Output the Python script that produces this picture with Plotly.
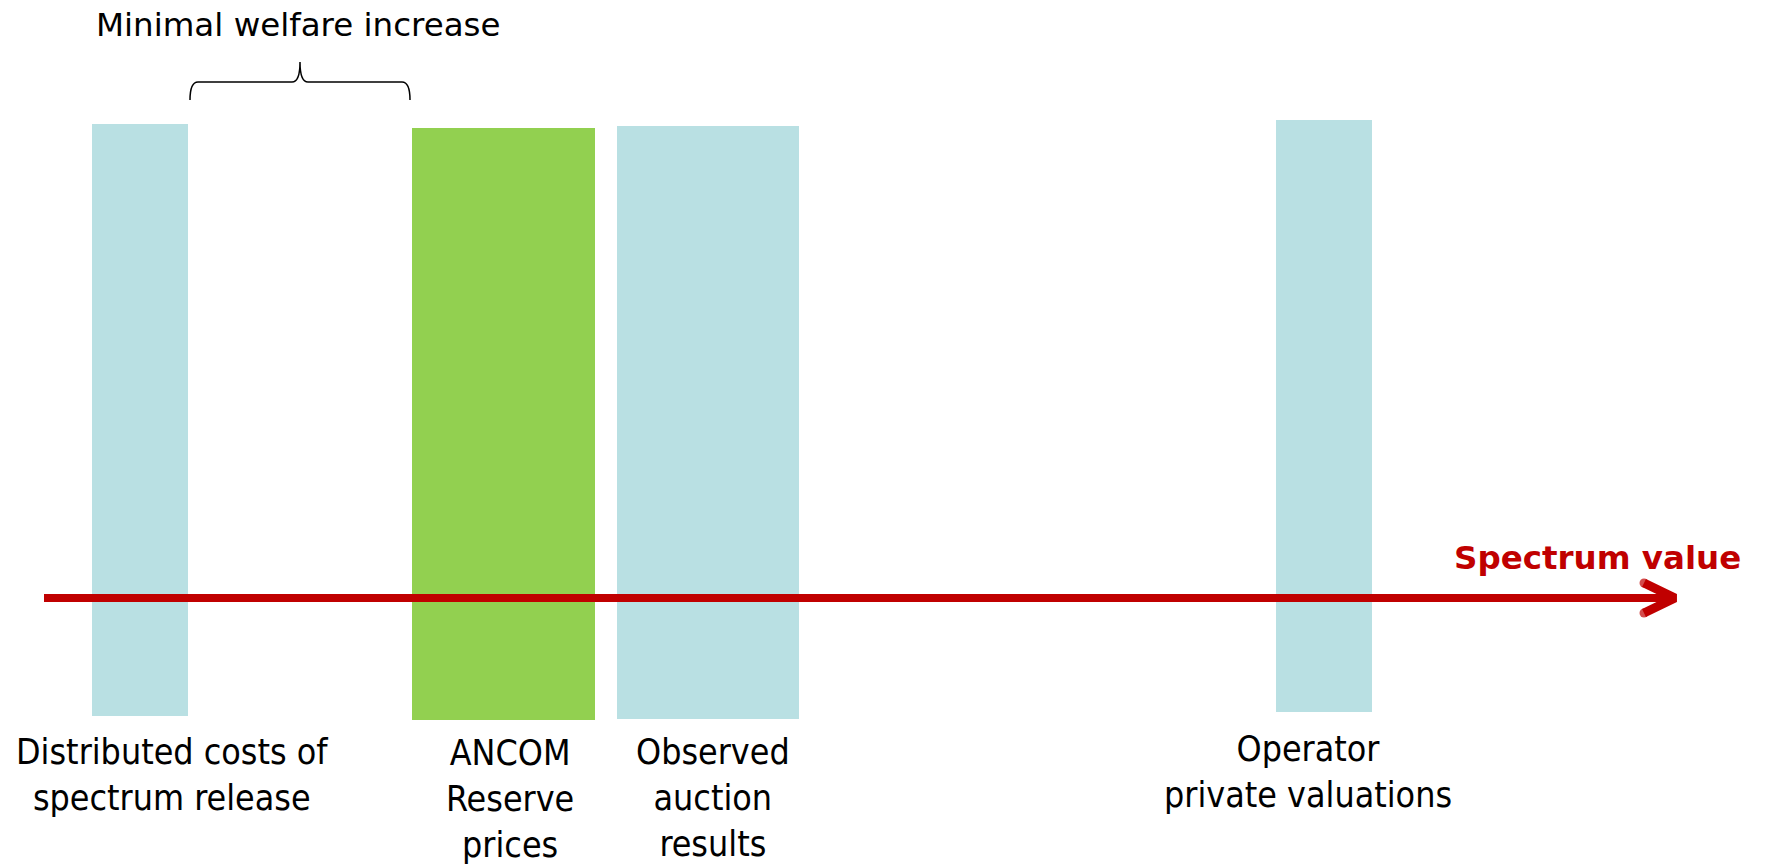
import plotly.graph_objects as go

# Bands along the spectrum-value axis (left edge, right edge) and their labels
band_labels = [
    "Distributed costs of<br>spectrum release",
    "ANCOM<br>Reserve<br>prices",
    "Observed<br>auction<br>results",
    "Operator<br>private valuations",
]
band_low = [92, 412, 617, 1276]
band_high = [188, 595, 799, 1372]
band_top = [124, 128, 126, 120]
band_bottom = [716, 720, 719, 712]
band_colors = ["#B9E0E3", "#92D050", "#B9E0E3", "#B9E0E3"]

axis_title = "Spectrum value"
brace_title = "Minimal welfare increase"

RED = "#C00000"
FONT_LABEL = "DejaVu Sans Condensed, DejaVu Sans, sans-serif"

fig = go.Figure()

centers = [(a + b) / 2 for a, b in zip(band_low, band_high)]
widths = [b - a for a, b in zip(band_low, band_high)]
heights = [b - t for t, b in zip(band_top, band_bottom)]

fig.add_trace(go.Bar(
    x=centers, y=heights, base=band_top, width=widths,
    marker=dict(color=band_colors, line=dict(width=0)),
    hoverinfo="skip", showlegend=False,
))

# Value axis arrow (shaft + open chevron head)
shaft_start, tip_x, axis_y = 44, 1673, 598
fig.add_trace(go.Scatter(
    x=[shaft_start, tip_x], y=[axis_y, axis_y], mode="lines",
    line=dict(color=RED, width=8), hoverinfo="skip", showlegend=False,
))
fig.add_trace(go.Scatter(
    x=[tip_x - 29, tip_x + 2, tip_x - 29], y=[axis_y - 15, axis_y, axis_y + 15],
    mode="lines+markers",
    line=dict(color=RED, width=9),
    marker=dict(color=RED, size=[9, 0, 9], line=dict(width=0)),
    hoverinfo="skip", showlegend=False,
))

# Curly brace spanning the gap between costs and reserve prices
bx0, bx1 = band_high[0] + 2, band_low[1] - 2
bmid = (bx0 + bx1) / 2
by_end, by_bar, by_peak = 100, 82, 62
brace = (
    f"M {bx0},{by_end} Q {bx0},{by_bar} {bx0 + 8},{by_bar} "
    f"L {bmid - 8},{by_bar} Q {bmid},{by_bar} {bmid},{by_peak} "
    f"Q {bmid},{by_bar} {bmid + 8},{by_bar} "
    f"L {bx1 - 8},{by_bar} Q {bx1},{by_bar} {bx1},{by_end}"
)
fig.add_shape(type="path", path=brace, xref="x", yref="y",
              line=dict(color="black", width=1.5))

fig.add_annotation(x=298, y=25, text=brace_title, showarrow=False,
                   xanchor="center", yanchor="middle",
                   font=dict(family="DejaVu Sans, sans-serif", size=32.5, color="black"))

fig.add_annotation(x=1597, y=558, text=f"<b>{axis_title}</b>", showarrow=False,
                   xanchor="center", yanchor="middle",
                   font=dict(family="DejaVu Sans, sans-serif", size=32.5, color=RED))

label_x = [172, 510, 713, 1308]
label_y = [774, 798, 797, 771]
for txt, lx, ly in zip(band_labels, label_x, label_y):
    fig.add_annotation(x=lx, y=ly, text=txt, showarrow=False,
                       xanchor="center", yanchor="middle", align="center",
                       font=dict(family=FONT_LABEL, size=35.5, color="black"))

fig.update_layout(
    width=1766, height=865, autosize=False,
    margin=dict(l=0, r=0, t=0, b=0),
    paper_bgcolor="white", plot_bgcolor="white",
    barmode="overlay",
    xaxis=dict(range=[0, 1766], visible=False, fixedrange=True),
    yaxis=dict(range=[865, 0], visible=False, fixedrange=True),
)

fig.write_html("out.html", config={"displayModeBar": False})
